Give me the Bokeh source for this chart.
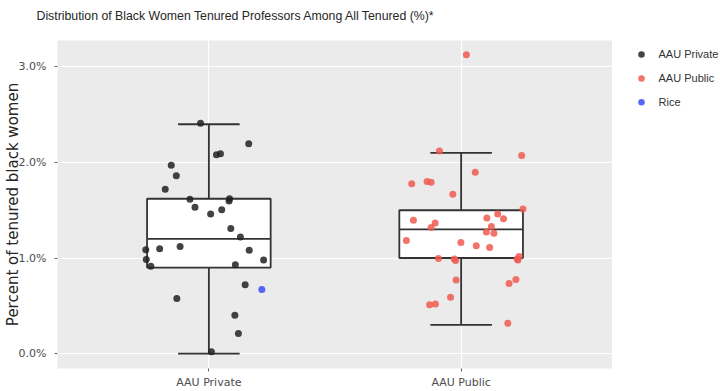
from bokeh.plotting import figure
from bokeh.layouts import row, column
from bokeh.models import (ColumnDataSource, FactorRange, Range1d, FixedTicker,
                          PrintfTickFormatter)
from bokeh.core.properties import value
from bokeh.embed import file_html
from bokeh.resources import INLINE

# ---------------- data ----------------
categories = ["AAU Private", "AAU Public"]
y_ticks = [0, 1, 2, 3]

private_vals = [2.41, 2.195, 2.08, 2.09, 1.97, 1.86, 1.72, 1.615, 1.62, 1.597,
                1.53, 1.506, 1.46, 1.31, 1.22, 1.096, 1.12, 1.086, 1.08, 0.985,
                0.98, 0.915, 0.93, 0.72, 0.577, 0.40, 0.21, 0.018]
private_jitter = [-0.033, 0.158, 0.03, 0.046, -0.149, -0.129, -0.173, -0.075, 0.082, 0.08,
                  -0.055, 0.051, 0.007, 0.087, 0.125, -0.195, -0.114, -0.25, 0.16, -0.248,
                  0.217, -0.23, 0.105, 0.144, -0.127, 0.103, 0.117, 0.01]

public_vals = [3.128, 2.119, 2.074, 1.897, 1.778, 1.80, 1.792, 1.667, 1.514, 1.461,
               1.412, 1.42, 1.395, 1.367, 1.32, 1.329, 1.273, 1.26, 1.183, 1.162,
               1.127, 1.11, 0.995, 0.99, 0.974, 0.99, 1.016, 0.978, 0.769, 0.776,
               0.734, 0.588, 0.511, 0.518, 0.316]
public_jitter = [0.021, -0.086, 0.24, 0.056, -0.196, -0.135, -0.119, -0.033, 0.245, 0.145,
                 0.168, 0.102, -0.189, -0.103, -0.119, 0.12, 0.1, 0.13, -0.217, -0.001,
                 0.06, 0.113, -0.09, -0.027, -0.022, 0.222, 0.23, 0.225, -0.02, 0.217,
                 0.19, -0.042, -0.125, -0.102, 0.185]

rice_category = "AAU Private"
rice_vals = [0.67]
rice_jitter = [0.21]

box_q1 = [0.90, 1.00]
box_median = [1.20, 1.30]
box_q3 = [1.62, 1.50]
whisker_low = [0.00, 0.30]
whisker_high = [2.40, 2.10]

series_names = ["AAU Private", "AAU Public", "Rice"]
series_colors = ["#222222", "#F05A50", "#4455F5"]
series_alpha = [0.85, 0.85, 0.9]

title_text = "Distribution of Black Women Tenured Professors Among All Tenured (%)*"
y_label_text = "Percent of tenured black women"

# ---------------- sizes ----------------
TOTAL_W = 720
HEAD_H = 40
BODY_H = 351
LEG_W = 108
MAIN_W = TOTAL_W - LEG_W
BOTTOM = 22
FRAME_H = BODY_H - BOTTOM

# ---------------- title strip ----------------
head = figure(width=TOTAL_W, height=HEAD_H, output_backend="svg", toolbar_location=None,
              title=None, x_range=Range1d(0, TOTAL_W), y_range=Range1d(HEAD_H, 0),
              x_axis_type=None, y_axis_type=None,
              min_border_left=0, min_border_right=0, min_border_top=0, min_border_bottom=0)
head.outline_line_color = None
head.background_fill_color = "white"
head.border_fill_color = "white"
head.xgrid.visible = False
head.ygrid.visible = False
head.text(x=[36], y=[15.5], text=[title_text], text_font=value("Liberation Sans"),
          text_font_size="12.3px", text_baseline="middle", text_align="left",
          text_color="#262626")

# ---------------- main figure ----------------
p = figure(width=MAIN_W, height=BODY_H, output_backend="svg", toolbar_location=None,
           title=None,
           x_range=FactorRange(factors=categories, range_padding=0.1),
           y_range=Range1d(-0.1565, 3.2765),
           min_border_left=50, min_border_right=0, min_border_top=0,
           min_border_bottom=BOTTOM)
p.background_fill_color = "#EBEBEB"
p.border_fill_color = "white"
p.outline_line_color = None

p.xgrid.grid_line_color = "white"
p.ygrid.grid_line_color = "white"
p.xgrid.grid_line_width = 1.2
p.ygrid.grid_line_width = 1.2

p.yaxis.ticker = FixedTicker(ticks=y_ticks)
p.yaxis.formatter = PrintfTickFormatter(format="%.1f%%")
for ax in (p.xaxis[0], p.yaxis[0]):
    ax.axis_line_color = None
    ax.major_tick_line_color = "#666666"
    ax.major_tick_out = 3
    ax.major_tick_in = 0
    ax.minor_tick_line_color = None
    ax.major_label_text_font = "DejaVu Sans"
    ax.major_label_text_font_size = "11px"
    ax.major_label_text_color = "#4D4D4D"
    ax.major_label_standoff = 8
p.xaxis.major_label_standoff = 4

p.yaxis.axis_label = y_label_text
p.yaxis.axis_label_text_font = "DejaVu Sans"
p.yaxis.axis_label_text_font_size = "15px"
p.yaxis.axis_label_text_font_style = "normal"
p.yaxis.axis_label_text_color = "#262626"
p.yaxis.axis_label_standoff = -6

line_col = "#333333"
box_w = 0.49
cap_w = 0.122

box_src = ColumnDataSource(dict(cat=categories, q1=box_q1, q3=box_q3, med=box_median,
                                lo=whisker_low, hi=whisker_high,
                                left=[(c, -box_w / 2) for c in categories],
                                right=[(c, box_w / 2) for c in categories],
                                cl=[(c, -cap_w) for c in categories],
                                cr=[(c, cap_w) for c in categories]))
p.segment(x0="cat", x1="cat", y0="q3", y1="hi", source=box_src, line_color=line_col, line_width=1.8)
p.segment(x0="cat", x1="cat", y0="q1", y1="lo", source=box_src, line_color=line_col, line_width=1.8)
p.segment(x0="cl", x1="cr", y0="hi", y1="hi", source=box_src, line_color=line_col, line_width=1.8)
p.segment(x0="cl", x1="cr", y0="lo", y1="lo", source=box_src, line_color=line_col, line_width=1.8)
p.vbar(x="cat", width=box_w, top="q3", bottom="q1", source=box_src,
       fill_color="white", line_color=line_col, line_width=1.8)
p.segment(x0="left", x1="right", y0="med", y1="med", source=box_src, line_color=line_col, line_width=1.8)

priv_src = ColumnDataSource(dict(x=[(categories[0], j) for j in private_jitter], y=private_vals))
pub_src = ColumnDataSource(dict(x=[(categories[1], j) for j in public_jitter], y=public_vals))
rice_src = ColumnDataSource(dict(x=[(rice_category, j) for j in rice_jitter], y=rice_vals))

for src, col, a in zip([priv_src, pub_src, rice_src], series_colors, series_alpha):
    p.scatter("x", "y", source=src, size=7, fill_color=col, fill_alpha=a, line_color=None)

# ---------------- legend panel (narrow figure beside the plot) ----------------
leg = figure(width=LEG_W, height=BODY_H, output_backend="svg", toolbar_location=None,
             title=None, x_range=Range1d(0, LEG_W), y_range=Range1d(FRAME_H, 0),
             x_axis_type=None, y_axis_type=None,
             min_border_left=0, min_border_right=0,
             min_border_top=0, min_border_bottom=BOTTOM)
leg.outline_line_color = None
leg.background_fill_color = "white"
leg.border_fill_color = "white"
leg.xgrid.visible = False
leg.ygrid.visible = False

leg_top, leg_pitch, leg_glyph_x, leg_text_x = 14, 24, 29, 46
leg_src = ColumnDataSource(dict(
    gx=[leg_glyph_x] * len(series_names),
    tx=[leg_text_x] * len(series_names),
    y=[leg_top + i * leg_pitch for i in range(len(series_names))],
    name=series_names, color=series_colors, alpha=series_alpha))
leg.scatter("gx", "y", source=leg_src, size=6.5, fill_color="color", fill_alpha="alpha",
            line_color=None)
leg.text("tx", "y", text="name", source=leg_src, text_font=value("Liberation Sans"),
         text_font_size="11px", text_baseline="middle", text_align="left",
         text_color="#333333")

layout = column(head, row(p, leg, spacing=0), spacing=0)
open("out.html", "w").write(file_html(layout, INLINE))
